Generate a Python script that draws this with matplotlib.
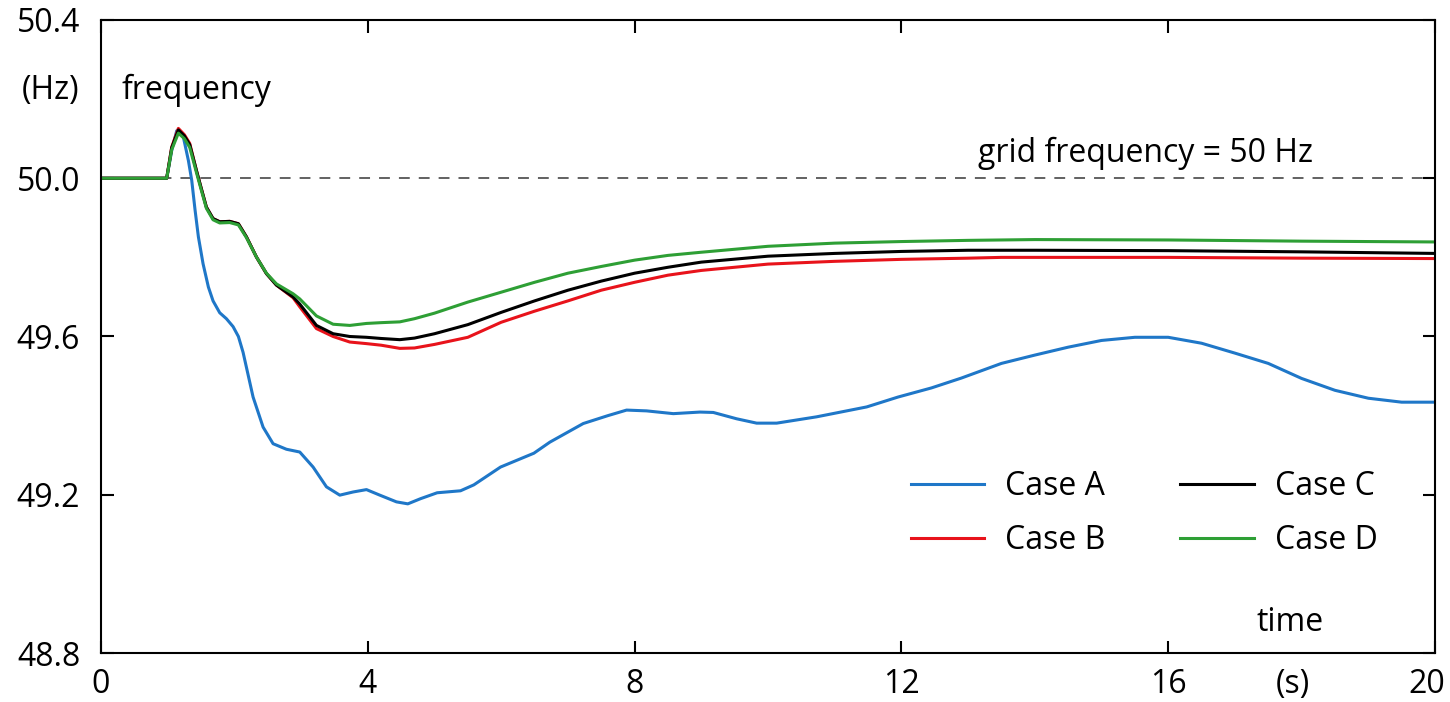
import matplotlib
matplotlib.use("Agg")
import matplotlib.pyplot as plt
from matplotlib.ticker import FormatStrFormatter
from matplotlib.transforms import ScaledTranslation

plt.rcParams['font.family'] = ['Open Sans', 'DejaVu Sans']

# time (s) and frequency (Hz)
t_a = [0, 0.985, 1.06, 1.135, 1.235, 1.31, 1.36, 1.41, 1.46, 1.53, 1.61, 1.68,
       1.78, 1.88, 1.98, 2.06, 2.13, 2.28, 2.43, 2.58, 2.78, 2.98, 3.18, 3.38,
       3.58, 3.78, 3.98, 4.18, 4.43, 4.6, 4.79, 5.04, 5.39, 5.59, 5.99, 6.49,
       6.73, 7.23, 7.6, 7.88, 8.18, 8.58, 8.98, 9.18, 9.53, 9.83, 10.13, 10.73,
       11.48, 11.95, 12.45, 12.9, 13.5, 14.0, 14.5, 15.0, 15.5, 16.0, 16.5,
       17.0, 17.5, 18.0, 18.5, 19.0, 19.5, 20.0]
f_a = [50.0, 50.0, 50.07, 50.12, 50.104, 50.045, 49.995, 49.92, 49.852,
       49.784, 49.725, 49.69, 49.66, 49.645, 49.625, 49.6, 49.56, 49.447,
       49.371, 49.329, 49.315, 49.308, 49.27, 49.22, 49.199, 49.207, 49.213,
       49.199, 49.182, 49.177, 49.19, 49.205, 49.21, 49.225, 49.27, 49.305,
       49.333, 49.38, 49.4, 49.414, 49.412, 49.405, 49.409, 49.408, 49.392,
       49.381, 49.381, 49.397, 49.422, 49.447, 49.47, 49.495, 49.532, 49.553,
       49.573, 49.59, 49.598, 49.598, 49.583, 49.558, 49.532, 49.494, 49.464,
       49.444, 49.434, 49.434]

t_bcd = [0, 0.985, 1.06, 1.16, 1.25, 1.33, 1.43, 1.51, 1.58, 1.68, 1.78, 1.93,
         2.06, 2.18, 2.33, 2.48, 2.63, 2.88, 2.98, 3.23, 3.48, 3.73, 3.98, 4.2,
         4.48, 4.7, 5.0, 5.5, 6.0, 6.5, 7.0, 7.5, 8.0, 8.5, 9.0, 10.0, 11.0,
         12.0, 13.0, 13.5, 14.0, 16.0, 18.0, 20.0]
f_b = [50.0, 50.0, 50.079, 50.126, 50.11, 50.088, 50.02, 49.97, 49.927,
       49.898, 49.89, 49.891, 49.885, 49.852, 49.801, 49.759, 49.73, 49.698,
       49.675, 49.62, 49.6, 49.586, 49.582, 49.578, 49.57, 49.571, 49.58,
       49.598, 49.636, 49.664, 49.69, 49.717, 49.737, 49.755, 49.767, 49.783,
       49.79, 49.795, 49.798, 49.8, 49.8, 49.8, 49.798, 49.797]
f_c = [50.0, 50.0, 50.077, 50.122, 50.107, 50.085, 50.02, 49.97, 49.927,
       49.898, 49.89, 49.891, 49.885, 49.852, 49.801, 49.759, 49.73, 49.7,
       49.682, 49.628, 49.607, 49.6, 49.598, 49.595, 49.592, 49.596, 49.607,
       49.63, 49.661, 49.69, 49.717, 49.74, 49.76, 49.775, 49.788, 49.803,
       49.81, 49.815, 49.818, 49.818, 49.818, 49.817, 49.814, 49.81]
f_d = [50.0, 50.0, 50.072, 50.114, 50.1, 50.078, 50.015, 49.966, 49.924,
       49.895, 49.887, 49.888, 49.882, 49.85, 49.801, 49.76, 49.733, 49.708,
       49.695, 49.652, 49.631, 49.628, 49.633, 49.635, 49.637, 49.645, 49.659,
       49.687, 49.712, 49.737, 49.76, 49.777, 49.793, 49.805, 49.813, 49.828,
       49.836, 49.84, 49.843, 49.844, 49.845, 49.844, 49.841, 49.839]

x_ticks = [0, 4, 8, 12, 16, 20]
y_ticks = [48.8, 49.2, 49.6, 50.0, 50.4]

fs = 23

fig = plt.figure(figsize=(14.5, 7.02), dpi=100)
ax = fig.add_axes([101 / 1450, 49 / 702, 1334 / 1450, 633 / 702])

ax.axhline(50.0, color='#555555', lw=1.3, ls=(0, (6, 5)), zorder=1)

ax.plot(t_a, f_a, color='#1f77c8', lw=2.2, label='Case A')
ax.plot(t_bcd, f_b, color='#e8131b', lw=2.2, label='Case B')
ax.plot(t_bcd, f_c, color='black', lw=2.2, label='Case C')
ax.plot(t_bcd, f_d, color='#2e9f35', lw=2.2, label='Case D')

ax.set_xlim(0, 20)
ax.set_ylim(48.8, 50.4)
ax.set_xticks(x_ticks)
ax.set_yticks(y_ticks)
ax.yaxis.set_major_formatter(FormatStrFormatter('%.1f'))
ax.tick_params(direction='in', length=9, width=1.5, labelsize=fs,
               top=True, right=True)
ax.tick_params(axis='x', pad=11)
ax.tick_params(axis='y', pad=15)
for s in ax.spines.values():
    s.set_linewidth(1.5)

# the "20" label sits a little left of its tick so it stays inside the image
last = ax.xaxis.get_major_ticks()[-1].label1
last.set_transform(last.get_transform() + ScaledTranslation(-0.08, 0, fig.dpi_scale_trans))

ax.text(-0.75, 50.222, '(Hz)', fontsize=fs, ha='center', va='center', clip_on=False)
ax.text(0.3, 50.222, 'frequency', fontsize=fs, ha='left', va='center')
ax.text(13.15, 50.063, 'grid frequency = 50 Hz', fontsize=fs, ha='left', va='center')
ax.text(17.83, 48.878, 'time', fontsize=fs, ha='center', va='center')
ax.text(17.87, 48.72, '(s)', fontsize=fs, ha='center', va='center', clip_on=False)

# legend laid out in two columns: A, B | C, D
ax.legend(ncol=2, loc='center', bbox_to_anchor=(0.782, 0.22), frameon=False,
          fontsize=fs, handlelength=2.3, handletextpad=0.65, columnspacing=2.35,
          labelspacing=0.65)

fig.savefig('out.png', dpi=100)
